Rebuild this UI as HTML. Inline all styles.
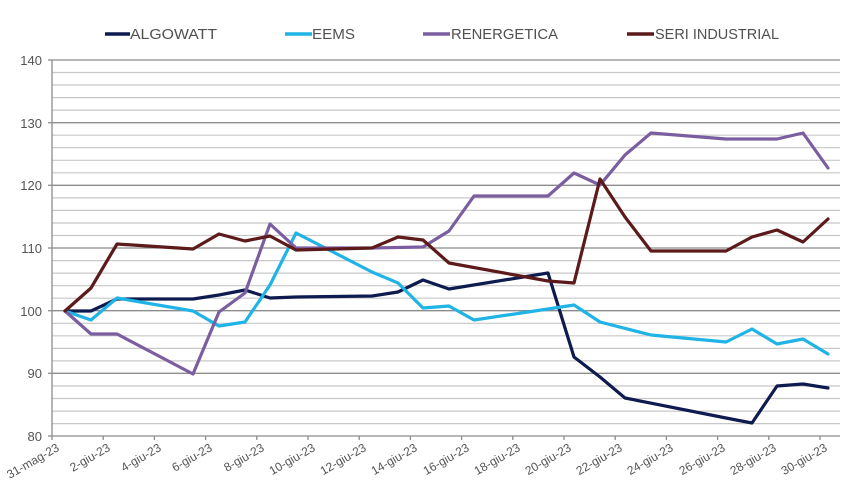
<!DOCTYPE html>
<html><head><meta charset="utf-8"><style>body{margin:0;background:#fff}svg{display:block;font-family:"Liberation Sans",sans-serif}</style></head>
<body>
<svg width="868" height="498" viewBox="0 0 868 498" xmlns="http://www.w3.org/2000/svg">
<g stroke="#c8c8c8" stroke-width="1.2">
<line x1="52" x2="840" y1="72.5" y2="72.5"/><line x1="52" x2="840" y1="85" y2="85"/><line x1="52" x2="840" y1="97.6" y2="97.6"/><line x1="52" x2="840" y1="110.1" y2="110.1"/>
<line x1="52" x2="840" y1="135.2" y2="135.2"/><line x1="52" x2="840" y1="147.7" y2="147.7"/><line x1="52" x2="840" y1="160.3" y2="160.3"/><line x1="52" x2="840" y1="172.8" y2="172.8"/>
<line x1="52" x2="840" y1="197.9" y2="197.9"/><line x1="52" x2="840" y1="210.4" y2="210.4"/><line x1="52" x2="840" y1="223" y2="223"/><line x1="52" x2="840" y1="235.5" y2="235.5"/>
<line x1="52" x2="840" y1="260.6" y2="260.6"/><line x1="52" x2="840" y1="273.1" y2="273.1"/><line x1="52" x2="840" y1="285.7" y2="285.7"/><line x1="52" x2="840" y1="298.2" y2="298.2"/>
<line x1="52" x2="840" y1="323.3" y2="323.3"/><line x1="52" x2="840" y1="335.8" y2="335.8"/><line x1="52" x2="840" y1="348.4" y2="348.4"/><line x1="52" x2="840" y1="360.9" y2="360.9"/>
<line x1="52" x2="840" y1="386" y2="386"/><line x1="52" x2="840" y1="398.5" y2="398.5"/><line x1="52" x2="840" y1="411.1" y2="411.1"/><line x1="52" x2="840" y1="423.6" y2="423.6"/>
</g>
<g stroke="#8c8c8c" stroke-width="1.3">
<line x1="52" x2="840" y1="60" y2="60"/><line x1="52" x2="840" y1="122.7" y2="122.7"/><line x1="52" x2="840" y1="185.3" y2="185.3"/><line x1="52" x2="840" y1="248" y2="248"/><line x1="52" x2="840" y1="310.7" y2="310.7"/><line x1="52" x2="840" y1="373.3" y2="373.3"/><line x1="52" x2="840" y1="436" y2="436"/>
<line x1="52" x2="52" y1="60" y2="440"/>
<line x1="48" x2="52" y1="60" y2="60"/><line x1="48" x2="52" y1="122.7" y2="122.7"/><line x1="48" x2="52" y1="185.3" y2="185.3"/><line x1="48" x2="52" y1="248" y2="248"/><line x1="48" x2="52" y1="310.7" y2="310.7"/><line x1="48" x2="52" y1="373.3" y2="373.3"/><line x1="48" x2="52" y1="436" y2="436"/>
<line x1="103.2" x2="103.2" y1="436" y2="440"/><line x1="154.4" x2="154.4" y1="436" y2="440"/><line x1="205.6" x2="205.6" y1="436" y2="440"/><line x1="256.8" x2="256.8" y1="436" y2="440"/><line x1="308" x2="308" y1="436" y2="440"/><line x1="359.2" x2="359.2" y1="436" y2="440"/><line x1="410.4" x2="410.4" y1="436" y2="440"/><line x1="461.6" x2="461.6" y1="436" y2="440"/><line x1="512.8" x2="512.8" y1="436" y2="440"/><line x1="564" x2="564" y1="436" y2="440"/><line x1="615.2" x2="615.2" y1="436" y2="440"/><line x1="666.4" x2="666.4" y1="436" y2="440"/><line x1="717.6" x2="717.6" y1="436" y2="440"/><line x1="768.8" x2="768.8" y1="436" y2="440"/><line x1="820" x2="820" y1="436" y2="440"/>
</g>
<g font-size="13" fill="#555" text-anchor="end">
<text x="42" y="65">140</text><text x="42" y="128">130</text><text x="42" y="190">120</text><text x="42" y="253">110</text><text x="42" y="316">100</text><text x="42" y="378">90</text><text x="42" y="441">80</text>
</g>
<g font-size="12" fill="#555" text-anchor="end">
<text transform="translate(60,450) rotate(-30)">31-mag-23</text>
<text transform="translate(111,450) rotate(-30)">2-giu-23</text>
<text transform="translate(162,450) rotate(-30)">4-giu-23</text>
<text transform="translate(213,450) rotate(-30)">6-giu-23</text>
<text transform="translate(265,450) rotate(-30)">8-giu-23</text>
<text transform="translate(316,450) rotate(-30)">10-giu-23</text>
<text transform="translate(367,450) rotate(-30)">12-giu-23</text>
<text transform="translate(418,450) rotate(-30)">14-giu-23</text>
<text transform="translate(470,450) rotate(-30)">16-giu-23</text>
<text transform="translate(521,450) rotate(-30)">18-giu-23</text>
<text transform="translate(572,450) rotate(-30)">20-giu-23</text>
<text transform="translate(623,450) rotate(-30)">22-giu-23</text>
<text transform="translate(674,450) rotate(-30)">24-giu-23</text>
<text transform="translate(726,450) rotate(-30)">26-giu-23</text>
<text transform="translate(777,450) rotate(-30)">28-giu-23</text>
<text transform="translate(828,450) rotate(-30)">30-giu-23</text>
</g>
<g fill="none" stroke-width="3.2" stroke-linejoin="round" stroke-linecap="round">
<polyline stroke="#0d1b4f" points="65,311 91,311 117,299 142,299 193,299 219,295 245,290 270,298 296,297 372,296 398,292 423,280 449,289 548,273 574,357 600,377 625,398 726,418 752,423 777,386 803,384 828,388"/>
<polyline stroke="#1fb3e6" points="65,311 91,320 117,298 193,311 219,326 245,322 270,285 296,233 372,272 398,283 423,308 449,306 474,320 548,309 574,305 600,322 651,335 726,342 752,329 777,344 803,339 828,354"/>
<polyline stroke="#7a5ea0" points="65,311 91,334 117,334 193,374 219,312 245,293 270,224 296,248 372,248 423,247 449,231 474,196 548,196 574,173 600,185 625,155 651,133 726,139 777,139 803,133 828,168"/>
<polyline stroke="#5c1a1a" points="65,311 91,288 117,244 193,249 219,234 245,241 270,236 296,250 372,248 398,237 423,240 449,263 548,281 574,283 600,179 625,217 651,251 726,251 752,237 777,230 803,242 828,219"/>
</g>
<g stroke-width="3.5">
<line x1="105" x2="130" y1="34" y2="34" stroke="#0d1b4f"/>
<line x1="285" x2="312" y1="34" y2="34" stroke="#1fb3e6"/>
<line x1="423" x2="450" y1="34" y2="34" stroke="#7a5ea0"/>
<line x1="627" x2="654" y1="34" y2="34" stroke="#5c1a1a"/>
</g>
<g font-size="15" fill="#505050">
<text x="130" y="39" textLength="87" lengthAdjust="spacingAndGlyphs">ALGOWATT</text>
<text x="312" y="39" textLength="43" lengthAdjust="spacingAndGlyphs">EEMS</text>
<text x="451" y="39" textLength="107" lengthAdjust="spacingAndGlyphs">RENERGETICA</text>
<text x="655" y="39" textLength="124" lengthAdjust="spacingAndGlyphs">SERI INDUSTRIAL</text>
</g>
</svg>
</body></html>
